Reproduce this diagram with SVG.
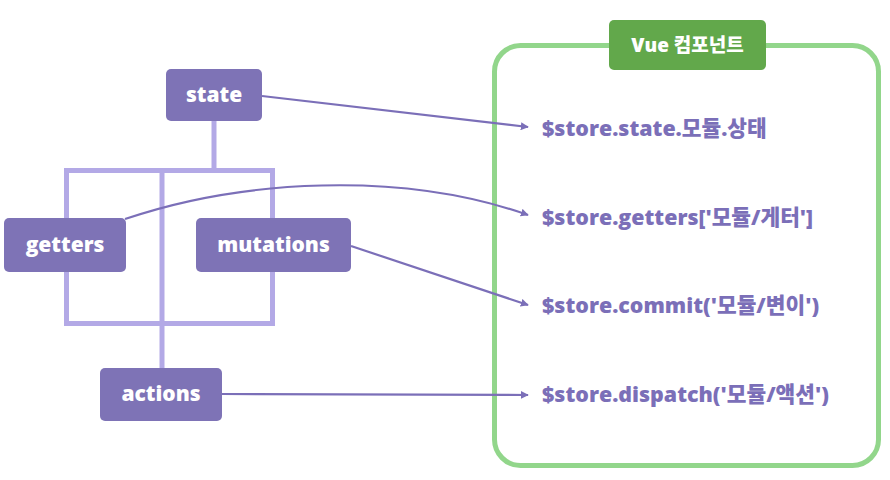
<svg xmlns="http://www.w3.org/2000/svg" width="890" height="480" viewBox="0 0 890 480">
<style>
.node{fill:#7e73b6}
.nt{fill:#fff;font-family:"Open Sans","Noto Sans CJK KR",sans-serif;font-weight:800;font-size:21px;text-anchor:middle}
.code{fill:#7b6fb8;font-family:"Open Sans","Noto Sans CJK KR",sans-serif;font-weight:800;font-size:21.4px}
.conn{fill:none;stroke:#7b6fb8;stroke-width:2.2}
.tree{fill:none;stroke:#b3a9e6;stroke-width:5}
</style>
<defs>
<marker id="ah" viewBox="0 0 10 10" refX="9" refY="5" markerWidth="8" markerHeight="8" orient="auto" markerUnits="userSpaceOnUse">
<path d="M0,0 L10,5 L0,10 z" fill="#7b6fb8"/>
</marker>
</defs>
<rect width="890" height="480" fill="#fff"/>
<g id="tree">
<path class="tree" d="M214,120 V170.5 M66.5,170.5 H272.5 V323.5 H66.5 Z M162,170.5 V370"/>
</g>
<g id="vue">
<rect x="494.5" y="45.5" width="384" height="420" rx="26" fill="none" stroke="#92d68b" stroke-width="5"/>
<rect x="609" y="20" width="157" height="50" rx="5" fill="#62a84b"/>
<text x="687.5" y="52" class="nt" style="font-size:19px">Vue 컴포넌트</text>
</g>
<g id="state"><rect class="node" x="166" y="69" width="96" height="52" rx="5"/><text class="nt" x="214" y="102">state</text></g>
<g id="getters"><rect class="node" x="4" y="218" width="122" height="54" rx="5"/><text class="nt" x="65" y="252">getters</text></g>
<g id="mutations"><rect class="node" x="196" y="218" width="155" height="54" rx="5"/><text class="nt" x="273.5" y="252">mutations</text></g>
<g id="actions"><rect class="node" x="100" y="368" width="122" height="53" rx="5"/><text class="nt" x="161" y="401">actions</text></g>
<g id="t1"><text class="code" x="542" y="136">$store.state.모듈.상태</text></g>
<g id="t2"><text class="code" x="542" y="225">$store.getters['모듈/게터']</text></g>
<g id="t3"><text class="code" x="542" y="313">$store.commit('모듈/변이')</text></g>
<g id="t4"><text class="code" x="542" y="402">$store.dispatch('모듈/액션')</text></g>
<g id="connectors">
<path class="conn" marker-end="url(#ah)" d="M262,96 L528,127"/>
<path class="conn" marker-end="url(#ah)" d="M125,219 C240,180 400,170 528,215"/>
<path class="conn" marker-end="url(#ah)" d="M351,246 L528,305"/>
<path class="conn" marker-end="url(#ah)" d="M222,394 L528,395"/>
</g>
</svg>
